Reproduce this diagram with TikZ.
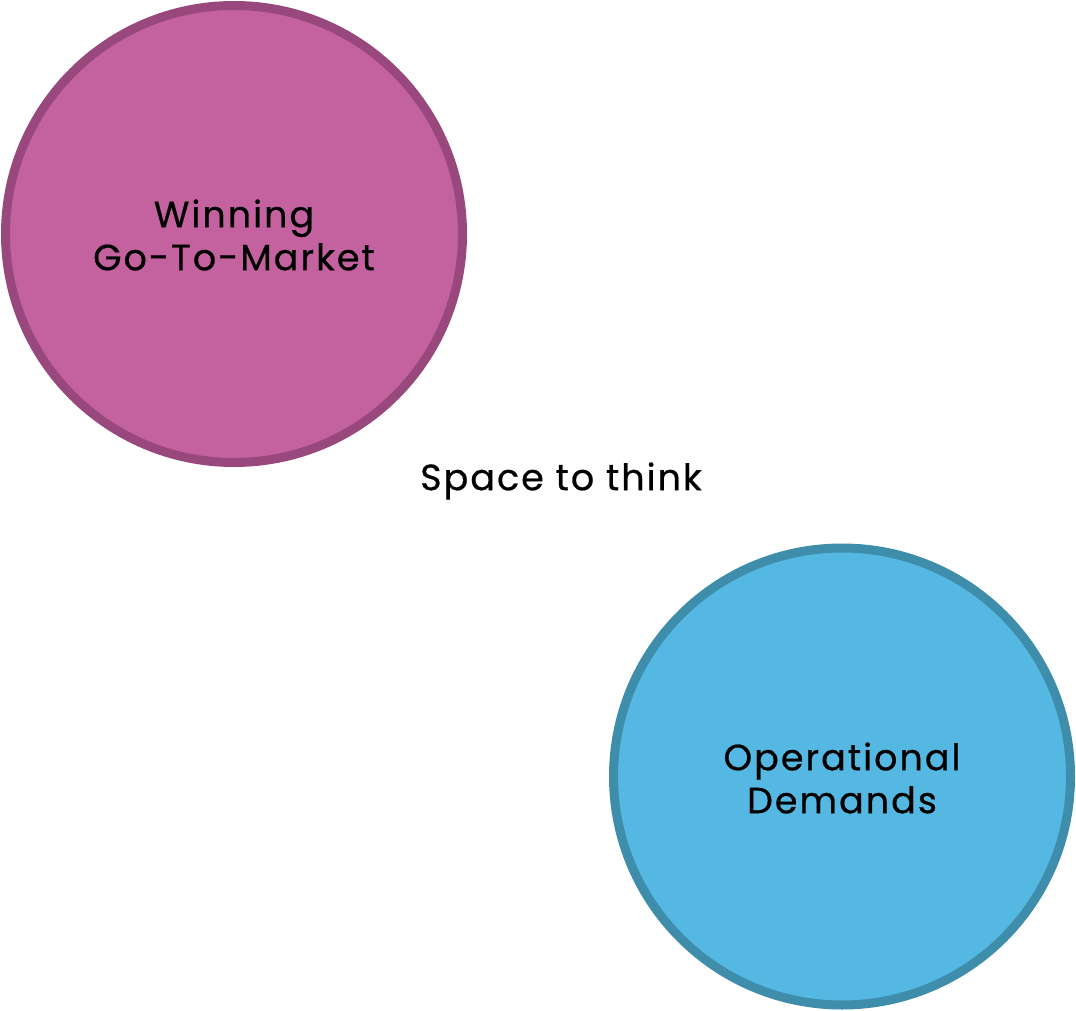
\documentclass[tikz,border=0pt]{standalone}
\usepackage{fontspec}
\setmainfont{Poppins}[LetterSpace=5.5,FakeBold=0.6]
\definecolor{pinkfill}{HTML}{C462A0}
\definecolor{pinkline}{HTML}{98487C}
\definecolor{bluefill}{HTML}{55B8E2}
\definecolor{blueline}{HTML}{3E8DAA}
\begin{document}
\begin{tikzpicture}[x=1pt,y=-1pt,
  bubble/.style={circle,line width=9pt,minimum size=457pt,inner sep=0pt},
  label/.style={align=center,font=\fontsize{36.5}{43}\selectfont,text=black}]
\useasboundingbox (0,0) rectangle (1076,1011);
\node[bubble,draw=pinkline,fill=pinkfill] (gtm) at (234,234) {};
\node[bubble,draw=blueline,fill=bluefill] (ops) at (842,776.5) {};
\node[label] (gtmt) at (234,235) {Winning\\Go-To-Market};
\node[label] (opst) at (842,778) {Operational\\Demands};
\node[label] (space) at (561,481) {Space to think};
\end{tikzpicture}
\end{document}
